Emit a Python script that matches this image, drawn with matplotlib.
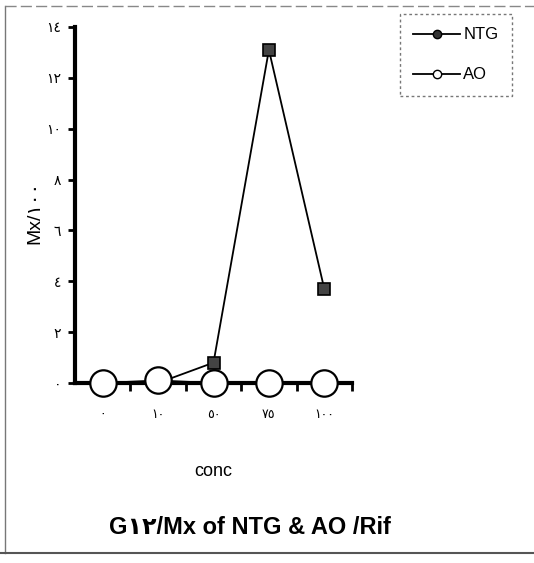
import matplotlib
matplotlib.use("Agg")
import matplotlib.pyplot as plt
from matplotlib.lines import Line2D
import numpy as np

categories = ["٠", "١٠", "٥٠", "٧٥", "١٠٠"]
ntg = [0.0, 0.0, 0.8, 13.1, 3.7]
ao = [0.0, 0.1, 0.0, 0.0, 0.0]
yticks = [0, 2, 4, 6, 8, 10, 12, 14]
ytick_labels = ["٠", "٢", "٤", "٦", "٨", "١٠", "١٢", "١٤"]

fam = ["Liberation Sans Narrow", "Liberation Sans", "DejaVu Sans"]
plt.rcParams["font.family"] = fam

fig = plt.figure(figsize=(5.34, 5.63), dpi=100)
ax = fig.add_axes([75/534, 1-383/563, 277/534, 356/563])

x = np.arange(len(categories))
ax.plot(x, ntg, color="black", lw=1.3, marker="s", ms=9, mfc="#444444",
        mec="black", mew=1.2, clip_on=False, zorder=3)
ax.plot(x, ao, color="black", lw=1.3, marker="o", ms=19, mfc="white",
        mec="black", mew=1.6, clip_on=False, zorder=4)

ax.set_xlim(-0.5, 4.5)
ax.set_ylim(0, 14)
ax.set_xticks(x)
ax.set_xticklabels(categories, fontsize=9, family=["DejaVu Sans"])
ax.set_xticks(x + 0.5, minor=True)
ax.tick_params(axis="x", which="major", length=0, pad=18)
ax.tick_params(axis="x", which="minor", length=6, width=2, direction="out")
ax.set_yticks(yticks)
ax.set_yticklabels(ytick_labels, fontsize=10, family=["DejaVu Sans"])
ax.tick_params(axis="y", length=5, width=2, direction="out", pad=5)

for s in ["top", "right"]:
    ax.spines[s].set_visible(False)
ax.spines["left"].set_linewidth(3)
ax.spines["bottom"].set_linewidth(3)

ax.set_ylabel("Mx/١٠٠", fontsize=14, family=fam)
ax.yaxis.set_label_coords(-0.115, 0.48)
ax.set_xlabel("conc", fontsize=13, labelpad=30, family=fam)
fig.text(250/534, 1-527/563, "G١٢/Mx of NTG & AO /Rif", fontsize=17,
         fontweight="bold", ha="center", va="center", family=fam)

handles = [
    Line2D([], [], color="black", lw=1.3, marker="o", ms=6, mfc="#333333", mec="black"),
    Line2D([], [], color="black", lw=1.3, marker="o", ms=6, mfc="white", mec="black"),
]
leg = fig.legend(handles, ["NTG", "AO"], loc="upper left",
                 bbox_to_anchor=(400/534, 1-14/563), fontsize=12,
                 frameon=True, fancybox=False, handlelength=2.8,
                 borderpad=0.8, labelspacing=1.5, handletextpad=0.2,
                 borderaxespad=0)
frame = leg.get_frame()
frame.set_linestyle((0, (2, 2)))
frame.set_edgecolor("#555555")
frame.set_linewidth(1)

# outer page frame
fig.add_artist(Line2D([5/534, 5/534], [1-6/563, 1-553/563], color="#777777", lw=1))
fig.add_artist(Line2D([5/534, 1.0], [1-6/563, 1-6/563], color="#888888", lw=1, ls=(0, (8, 3))))
fig.add_artist(Line2D([0, 1.0], [1-553/563, 1-553/563], color="#555555", lw=1.5))

fig.savefig("out.png", dpi=100)
